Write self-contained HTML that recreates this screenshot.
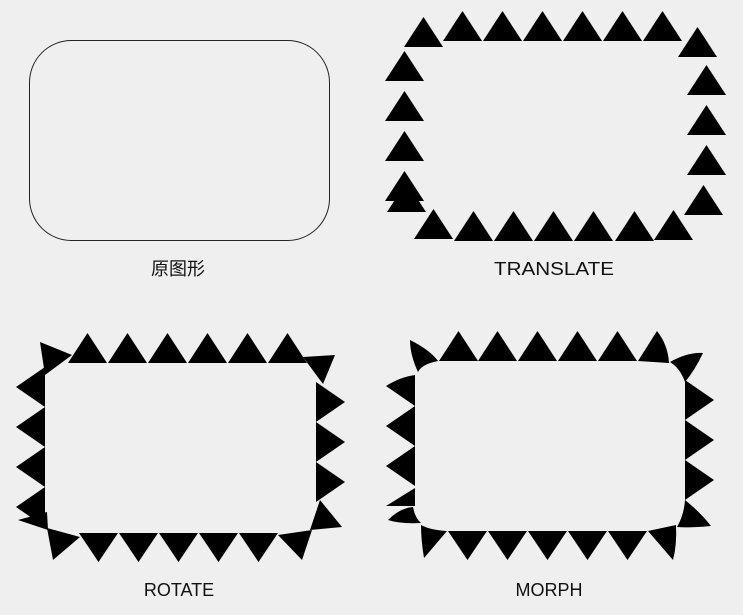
<!DOCTYPE html>
<html><head><meta charset="utf-8"><style>
html,body{margin:0;padding:0;background:#efefef;width:743px;height:615px;overflow:hidden}
svg{display:block}
text{font-family:"Liberation Sans","Noto Sans CJK SC",sans-serif;font-size:18px;fill:#111}
</style></head><body>
<svg width="743" height="615" viewBox="0 0 743 615" xmlns="http://www.w3.org/2000/svg">
<defs>
<polygon id="u" points="0,0 19.5,-30 39,0"/>
<polygon id="d" points="0,0 19.5,29 39,0"/>
<polygon id="l" points="0,-20 -29,0 0,20"/>
<polygon id="r" points="0,-20 29,0 0,20"/>
</defs>
<rect x="29.5" y="40.5" width="300" height="200" rx="42" fill="none" stroke="#222" stroke-width="1"/>
<text x="178" y="275" text-anchor="middle">原图形</text>

<!-- TRANSLATE -->
<g fill="#000">
<use href="#u" x="404" y="47"/>
<use href="#u" x="443" y="41"/><use href="#u" x="483" y="41"/><use href="#u" x="523" y="41"/>
<use href="#u" x="563" y="41"/><use href="#u" x="603" y="41"/><use href="#u" x="643" y="41"/>
<use href="#u" x="678" y="57"/>
<use href="#u" x="385" y="81"/><use href="#u" x="385" y="121"/><use href="#u" x="385" y="161"/>
<use href="#u" x="385" y="201"/><use href="#u" x="387" y="212"/>
<use href="#u" x="414" y="239"/><use href="#u" x="454" y="241"/><use href="#u" x="494" y="241"/>
<use href="#u" x="534" y="241"/><use href="#u" x="574" y="241"/><use href="#u" x="615" y="241"/>
<use href="#u" x="654" y="240"/>
<use href="#u" x="687" y="95"/><use href="#u" x="687" y="135"/><use href="#u" x="687" y="175"/>
<use href="#u" x="684" y="215"/>
</g>
<text x="554" y="275" text-anchor="middle" textLength="120" lengthAdjust="spacingAndGlyphs">TRANSLATE</text>

<!-- ROTATE -->
<g fill="#000">
<use href="#u" x="68" y="363"/><use href="#u" x="108" y="363"/><use href="#u" x="148" y="363"/>
<use href="#u" x="188" y="363"/><use href="#u" x="228" y="363"/><use href="#u" x="268" y="363"/>
<use href="#l" x="45" y="387"/><use href="#l" x="45" y="427"/><use href="#l" x="45" y="467"/><use href="#l" x="45" y="507"/>
<use href="#r" x="316" y="402"/><use href="#r" x="316" y="442"/><use href="#r" x="316" y="482"/>
<use href="#d" x="79" y="533"/><use href="#d" x="119" y="533"/><use href="#d" x="159" y="533"/>
<use href="#d" x="199" y="533"/><use href="#d" x="239" y="533"/>
<polygon points="40,342 72,355 45,375"/>
<polygon points="303,357 335,355 323,384"/>
<polygon points="320,500 342,527 310,530"/>
<polygon points="278,535 312,530 302,560"/>
<polygon points="18,520 47,512 48,530"/>
<polygon points="47,528 80,537 53,560"/>
</g>
<text x="179" y="596" text-anchor="middle">ROTATE</text>

<!-- MORPH -->
<rect x="415" y="361" width="270" height="170" rx="32" fill="#efefef"/>
<g fill="#000">
<use href="#u" x="439" y="361"/><use href="#u" x="478" y="361"/><use href="#u" x="518" y="361"/>
<use href="#u" x="558" y="361"/><use href="#u" x="598" y="361"/>
<path d="M638,361 L657,331 Q668,345 669,363 Z"/>
<path d="M410,340 Q430,350 438,361 Q422,364 418,372 Q410,355 410,340 Z"/>
<path d="M670,362 Q688,352 703,353 Q695,370 685,382 Q680,368 670,362 Z"/>
<path d="M386,386 Q400,377 415,375 L415,406 Z"/>
<use href="#l" x="415" y="426"/><use href="#l" x="415" y="466"/>
<path d="M415,488 L386,506 L415,506 Z"/>
<path d="M388,520 Q400,508 413,507 Q415,518 421,523 Q400,524 388,520 Z"/>
<use href="#r" x="685" y="400"/><use href="#r" x="685" y="440"/><use href="#r" x="685" y="480"/>
<path d="M685,500 Q700,512 711,526 Q690,528 677,527 Q684,515 685,500 Z"/>
<use href="#d" x="448" y="531"/><use href="#d" x="488" y="531"/><use href="#d" x="528" y="531"/>
<use href="#d" x="568" y="531"/><use href="#d" x="608" y="531"/>
<path d="M648,531 L676,525 Q677,545 673,560 Z"/>
<path d="M421,525 Q430,530 447,531 L424,558 Q421,540 421,525 Z"/>
</g>
<text x="549" y="596" text-anchor="middle">MORPH</text>
</svg>
</body></html>
